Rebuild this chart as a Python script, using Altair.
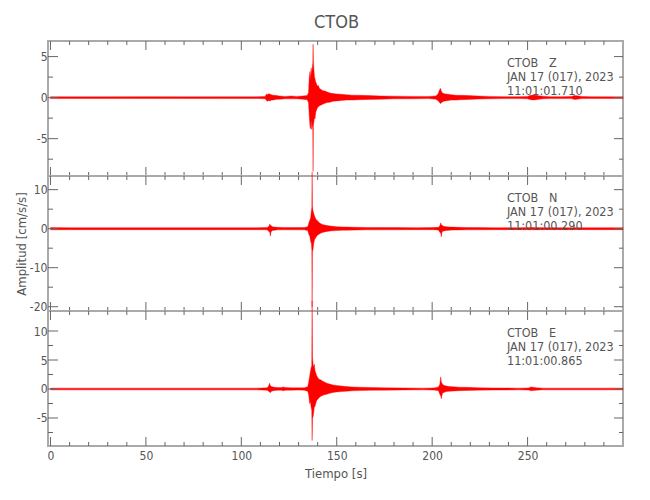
import altair as alt
import pandas as pd

# ---------------- data (envelopes) ----------------
Z_T = [0, 10, 30, 50, 70, 90, 108, 112.5, 113.2, 113.8, 114.4, 115.0, 115.8, 116.6, 117.5, 118.5,
       120, 123, 126, 129, 132, 134.5, 135.2, 135.6, 136.0, 136.3, 136.6, 136.9, 137.2, 137.45,
       137.6, 137.75, 138.0, 138.3, 138.6, 139.0, 139.4, 139.8, 140.3, 141.0, 141.8, 142.7, 143.8,
       145, 146.5, 148, 150, 152.5, 155, 158, 162, 167, 173, 180, 190, 198, 202, 203.2, 203.8,
       204.3, 204.8, 205.3, 206, 207, 208.5, 210, 212.5, 215, 219, 224, 230, 238, 246, 250, 251.5,
       253, 254.5, 256, 258, 262, 268, 273, 274.5, 276, 277.5, 279, 283, 290, 300]
Z_HI = [0.12, 0.10, 0.10, 0.12, 0.10, 0.10, 0.10, 0.15, 0.45, 0.35, 0.50, 0.40, 0.35, 0.30, 0.30, 0.25,
        0.20, 0.15, 0.20, 0.15, 0.20, 0.25, 0.60, 2.50, 3.20, 2.20, 3.60, 2.80, 3.80, 4.20,
        6.50, 4.50, 3.60, 2.60, 2.30, 1.90, 1.70, 1.40, 1.50, 1.10, 1.00, 0.85, 0.80,
        0.70, 0.55, 0.50, 0.45, 0.40, 0.35, 0.30, 0.28, 0.25, 0.20, 0.18, 0.15, 0.15, 0.20, 0.50, 0.90,
        1.15, 0.80, 0.60, 0.50, 0.45, 0.40, 0.35, 0.30, 0.28, 0.25, 0.20, 0.15, 0.12, 0.12, 0.15, 0.30,
        0.32, 0.28, 0.22, 0.18, 0.12, 0.12, 0.14, 0.25, 0.22, 0.18, 0.14, 0.12, 0.10, 0.10]
Z_LO = [-0.12, -0.10, -0.10, -0.10, -0.10, -0.12, -0.10, -0.15, -0.35, -0.45, -0.35, -0.40, -0.30, -0.30, -0.25, -0.20,
        -0.20, -0.15, -0.15, -0.15, -0.20, -0.25, -0.60, -2.20, -3.60, -3.80, -2.80, -3.90, -3.20, -3.80,
        -9.00, -3.50, -3.00, -2.40, -2.60, -1.80, -1.50, -1.30, -1.10, -1.00, -0.90, -0.80, -0.70,
        -0.60, -0.55, -0.45, -0.40, -0.35, -0.30, -0.30, -0.25, -0.22, -0.20, -0.15, -0.15, -0.12, -0.20, -0.40, -0.55,
        -0.75, -0.60, -0.55, -0.45, -0.40, -0.35, -0.30, -0.30, -0.25, -0.22, -0.18, -0.15, -0.12, -0.12, -0.15, -0.25,
        -0.28, -0.25, -0.20, -0.15, -0.12, -0.12, -0.12, -0.22, -0.20, -0.15, -0.12, -0.10, -0.10, -0.10]

N_T = [0, 10, 30, 50, 70, 90, 108, 113.5, 114.5, 114.9, 115.2, 115.6, 116.3, 117.5, 119, 122, 126, 130,
       133, 134.8, 135.4, 135.9, 136.3, 136.7, 136.95, 137.1, 137.25, 137.6, 138.0, 138.4, 138.9,
       139.4, 140.0, 140.7, 141.5, 142.5, 143.6, 145, 146.5, 148, 150, 153, 156, 160, 166, 173, 182,
       192, 200, 203.2, 204.0, 204.5, 204.8, 205.2, 206, 207.5, 209, 211, 214, 218, 224, 232, 245,
       252, 260, 275, 290, 300]
N_HI = [0.30, 0.25, 0.25, 0.25, 0.25, 0.25, 0.25, 0.30, 0.60, 1.20, 0.90, 0.80, 0.50, 0.40, 0.35, 0.30, 0.30, 0.30,
        0.30, 0.50, 1.50, 2.20, 2.80, 4.50, 5.50, 14.5, 5.80, 4.50, 3.80, 3.20, 2.60,
        2.20, 2.00, 1.60, 1.30, 1.10, 0.95, 0.80, 0.70, 0.60, 0.50, 0.45, 0.40, 0.35, 0.32, 0.30, 0.28,
        0.25, 0.28, 0.35, 0.70, 1.50, 1.00, 0.90, 0.60, 0.50, 0.45, 0.40, 0.35, 0.30, 0.28, 0.25, 0.25,
        0.28, 0.25, 0.25, 0.25, 0.25]
N_LO = [-0.30, -0.25, -0.25, -0.25, -0.25, -0.25, -0.25, -0.30, -0.70, -1.00, -1.90, -0.80, -0.50, -0.40, -0.30, -0.30, -0.28, -0.30,
        -0.30, -0.50, -1.50, -2.00, -3.20, -3.80, -5.50, -20.0, -6.00, -5.20, -3.60, -2.80, -2.40,
        -2.00, -1.60, -1.40, -1.20, -1.00, -0.85, -0.70, -0.60, -0.55, -0.50, -0.40, -0.38, -0.35, -0.30, -0.30, -0.28,
        -0.25, -0.25, -0.35, -0.90, -1.20, -2.10, -0.80, -0.60, -0.45, -0.40, -0.35, -0.32, -0.30, -0.28, -0.25, -0.25,
        -0.28, -0.25, -0.25, -0.25, -0.25]

E_T = [0, 10, 30, 50, 70, 90, 108, 113.5, 114.3, 114.8, 115.2, 115.8, 116.6, 117.5, 119, 121, 122, 123,
       126, 130, 133, 134.8, 135.3, 135.8, 136.2, 136.6, 136.9, 137.1, 137.3, 137.6, 137.9, 138.2,
       138.6, 139.0, 139.5, 140.0, 140.7, 141.5, 142.5, 143.5, 144.8, 146.3, 148, 150, 152.5, 155,
       158, 162, 168, 175, 185, 195, 201, 203.3, 204.0, 204.5, 204.8, 205.3, 206, 207.5, 209, 211,
       214, 218, 224, 232, 245, 250.5, 251.8, 253, 254.5, 258, 270, 285, 300]
E_HI = [0.15, 0.15, 0.15, 0.15, 0.15, 0.15, 0.15, 0.20, 0.50, 1.00, 0.60, 0.45, 0.35, 0.30, 0.25, 0.25, 0.35, 0.25,
        0.20, 0.20, 0.20, 0.40, 1.20, 2.20, 3.00, 3.70, 4.00, 15.2, 5.50, 4.20, 3.80, 4.30,
        3.20, 2.80, 2.30, 2.00, 1.70, 1.60, 1.40, 1.20, 1.00, 0.85, 0.70, 0.60, 0.50, 0.42,
        0.35, 0.30, 0.25, 0.20, 0.18, 0.15, 0.18, 0.35, 0.80, 2.10, 1.20, 0.90, 0.65, 0.50, 0.42, 0.38,
        0.32, 0.28, 0.22, 0.18, 0.15, 0.18, 0.35, 0.30, 0.22, 0.15, 0.15, 0.15, 0.15]
E_LO = [-0.15, -0.15, -0.15, -0.15, -0.15, -0.15, -0.15, -0.20, -0.40, -0.50, -0.65, -0.40, -0.30, -0.28, -0.22, -0.22, -0.30, -0.22,
        -0.20, -0.18, -0.20, -0.40, -1.00, -2.50, -2.20, -3.20, -3.70, -8.90, -5.00, -4.80, -4.20, -3.20,
        -3.00, -2.50, -2.00, -1.80, -1.50, -1.30, -1.10, -1.00, -0.90, -0.75, -0.60, -0.50, -0.45, -0.38,
        -0.32, -0.28, -0.22, -0.20, -0.16, -0.15, -0.18, -0.30, -0.90, -1.20, -1.70, -0.80, -0.60, -0.45, -0.40, -0.35,
        -0.30, -0.25, -0.20, -0.18, -0.15, -0.18, -0.30, -0.28, -0.20, -0.15, -0.15, -0.15, -0.15]

X_TICKS = list(range(0, 300, 10))
X_LABELS = [0, 50, 100, 150, 200, 250]
Y_MAJOR = [[5, 0, -5], [10, 0, -10, -20], [10, 5, 0, -5]]
Y_MINOR = [[2.5, -2.5, -7.5], [5, -5, -15], [7.5, 2.5, -2.5, -7.5]]
Y_DOMAINS = [[-9.55, 6.9], [-21.1, 13.5], [-9.83, 13.45]]
X_DOMAIN = [-1.3, 300]
NOTES = [
    ["CTOB\u00a0\u00a0\u00a0Z", "JAN 17 (017), 2023", "11:01:01.710"],
    ["CTOB\u00a0\u00a0\u00a0N", "JAN 17 (017), 2023", "11:01:00.290"],
    ["CTOB\u00a0\u00a0\u00a0E", "JAN 17 (017), 2023", "11:01:00.865"],
]
TRACES = [(Z_T, Z_HI, Z_LO), (N_T, N_HI, N_LO), (E_T, E_HI, E_LO)]

# ---------------- style ----------------
FONT = "DejaVu Sans Condensed, Liberation Sans Narrow, sans-serif"
TXT = "#555555"
FRAME = "#aaaaaa"
TICK = "#666666"
RED = "#ff0000"
W = 575
H = 135
MAJ = 9
MIN = 4


def panel(i, bottom):
    t, hi, lo = TRACES[i]
    xs = alt.Scale(domain=X_DOMAIN, nice=False, zero=False)
    ys = alt.Scale(domain=Y_DOMAINS[i], nice=False, zero=False)
    df = pd.DataFrame({"t": t, "hi": hi, "lo": lo})

    if bottom:
        xaxis = alt.Axis(values=X_LABELS, ticks=False, domain=False, grid=False,
                         labelExpr="'' + datum.value", title="Tiempo  [s]",
                         labelPadding=4, titlePadding=6)
    else:
        xaxis = None
    yaxis = alt.Axis(values=Y_MAJOR[i], ticks=False, domain=False, grid=False,
                     labelExpr="'' + datum.value", labelPadding=1,
                     title="Amplitud  [cm/s/s]" if i == 1 else "", titlePadding=1)

    trace = alt.Chart(df).mark_area(color=RED, stroke=RED, strokeWidth=0.4, opacity=1).encode(
        x=alt.X("t:Q", scale=xs, axis=xaxis),
        y=alt.Y("hi:Q", scale=ys, axis=yaxis),
        y2="lo:Q",
    )

    xt = pd.DataFrame({"v": X_TICKS})
    layers = [trace]
    for is_major, ln in ((True, MAJ), (False, MIN)):
        flt = "datum.v % 50 == 0" if is_major else "datum.v % 50 != 0"
        base = alt.Chart(xt).transform_filter(flt).mark_rule(color=TICK, strokeWidth=1)
        layers.append(base.encode(x=alt.X("v:Q", scale=xs, axis=xaxis),
                                  y=alt.value(H), y2=alt.value(H - ln)))
        layers.append(base.encode(x=alt.X("v:Q", scale=xs, axis=xaxis),
                                  y=alt.value(0), y2=alt.value(ln)))
    for vals, ln in ((Y_MAJOR[i], MAJ + 1), (Y_MINOR[i], MIN + 1)):
        yt = pd.DataFrame({"v": vals})
        base = alt.Chart(yt).mark_rule(color=TICK, strokeWidth=1)
        layers.append(base.encode(y=alt.Y("v:Q", scale=ys, axis=yaxis),
                                  x=alt.value(0), x2=alt.value(ln)))
        layers.append(base.encode(y=alt.Y("v:Q", scale=ys, axis=yaxis),
                                  x=alt.value(W), x2=alt.value(W - ln + 1)))
    for k, line in enumerate(NOTES[i]):
        layers.append(
            alt.Chart(pd.DataFrame({"s": [line]})).mark_text(
                align="left", baseline="middle", font=FONT, fontSize=12.5, color=TXT
            ).encode(x=alt.value(459), y=alt.value(22 + 14 * k), text="s:N")
        )
    return alt.layer(*layers).properties(width=W, height=H)


chart = alt.vconcat(panel(0, False), panel(1, False), panel(2, True),
                    spacing=0, bounds="flush").properties(
    title=alt.TitleParams("CTOB", font=FONT, fontSize=18, fontWeight="normal",
                          color=TXT, offset=8, anchor="middle", dx=17),
    padding={"left": 6, "top": 5, "right": 5, "bottom": 5},
).configure_view(
    stroke=FRAME, strokeWidth=2
).configure_axis(
    labelFont=FONT, titleFont=FONT, labelColor=TXT, titleColor=TXT,
    labelFontSize=12, titleFontSize=13, titleFontWeight="normal"
)

chart.save("out.html", embed_options={"renderer": "svg", "actions": False})
